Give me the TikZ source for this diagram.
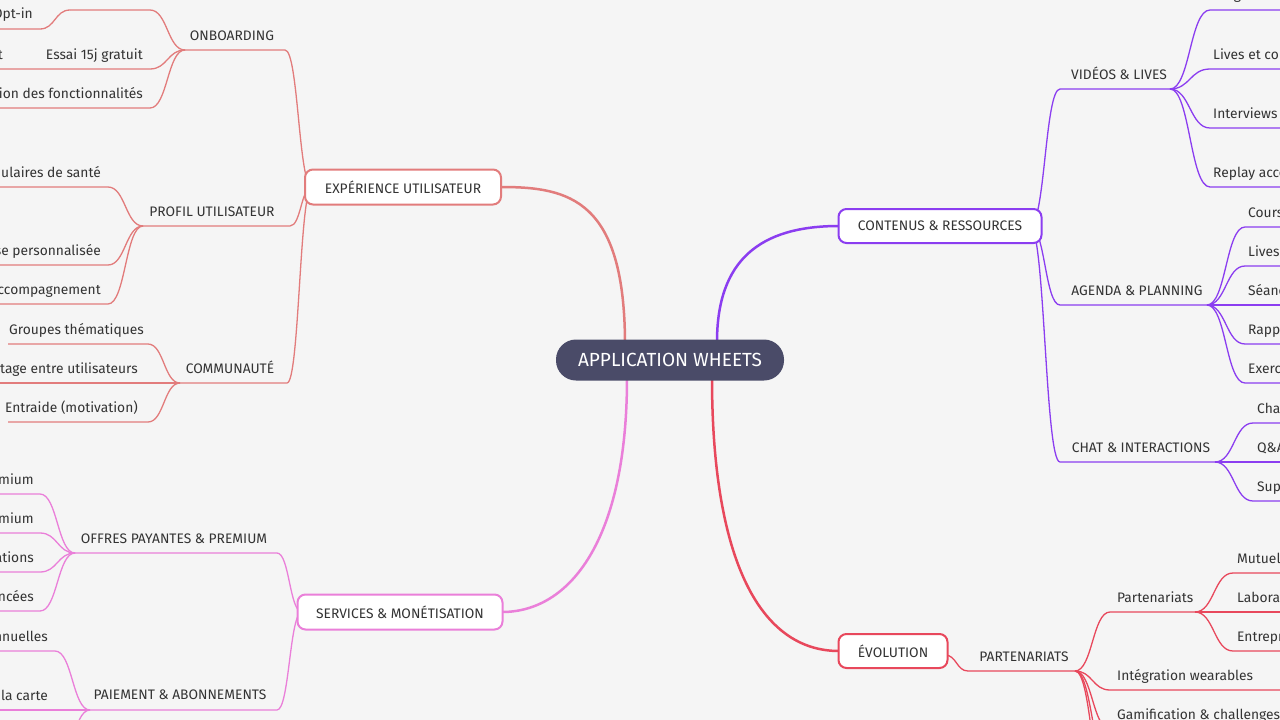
\documentclass[tikz,border=0pt]{standalone}
\usepackage{fontspec}
\setmainfont{Fira Sans}
\definecolor{bg}{HTML}{F5F5F5}
\definecolor{cS}{HTML}{E27C7C}
\definecolor{cP}{HTML}{EA7FD9}
\definecolor{cV}{HTML}{8B3DF0}
\definecolor{cR}{HTML}{E8485C}
\definecolor{tx}{HTML}{333333}
\definecolor{ctr}{HTML}{4A4B68}
\tikzset{
 topic/.style={draw=#1,line width=2pt,fill=white,rounded corners=8pt,minimum height=34pt,inner xsep=10pt,text=tx,font=\fontsize{13.8}{15}\selectfont},
 lab/.style={text=tx,font=\fontsize{13.8}{15}\selectfont,inner sep=0pt},
}
\newcommand\Lk[6]{\draw[#1,line width=1.3pt] (#2,#3) .. controls ({(#2+#4)/2},#3) and ({(#2+#4)/2},#5) .. (#4,#5) -- (#6,#5);}
\begin{document}
\begin{tikzpicture}[x=1pt,y=-1pt]
\useasboundingbox (0,0) rectangle (1280,720);
\fill[bg] (0,0) rectangle (1280,720);
\clip (0,0) rectangle (1280,720);
% main edges
\draw[cS,line width=2.5pt] (625,345) .. controls (625,200) and (570,187) .. (501,187);
\draw[cP,line width=2.5pt] (627,378) .. controls (627,540) and (570,612) .. (502,612);
\draw[cV,line width=2.5pt] (717,342) .. controls (717,260) and (760,226) .. (839,226);
\draw[cR,line width=2.5pt] (712,378) .. controls (712,560) and (760,651) .. (839,651);
% EXPERIENCE subtopics
\Lk{cS}{312}{187}{285}{50}{185}
\Lk{cS}{312}{187}{290}{226}{143}
\Lk{cS}{312}{187}{287}{383}{180}
\node[lab,anchor=base] at (232,40) {ONBOARDING};
\node[lab,anchor=base] at (212,216) {PROFIL UTILISATEUR};
\node[lab,anchor=base] at (230,373) {COMMUNAUTÉ};
% onboarding leaves
\Lk{cS}{185}{50}{150}{10}{70}
\Lk{cS}{70}{10}{40}{29}{0}
\Lk{cS}{185}{50}{150}{69}{0}
\Lk{cS}{185}{50}{150}{108}{0}
\node[lab,anchor=base east] at (33,19) {Opt-in};
\node[lab,anchor=base east] at (143,59) {Essai 15j gratuit};
\node[lab,anchor=base east] at (3,59) {Accès immédiat};
\node[lab,anchor=base east] at (143,98) {Présentation des fonctionnalités};
% profil leaves
\Lk{cS}{143}{226}{108}{187}{0}
\Lk{cS}{143}{226}{108}{265}{0}
\Lk{cS}{143}{226}{108}{304}{0}
\node[lab,anchor=base east] at (101,177) {Formulaires de santé};
\node[lab,anchor=base east] at (101,255) {Analyse personnalisée};
\node[lab,anchor=base east] at (101,294) {Plan d'accompagnement};
% communaute leaves
\Lk{cS}{180}{383}{148}{344}{8}
\Lk{cS}{180}{383}{148}{383}{0}
\Lk{cS}{180}{383}{148}{422}{8}
\node[lab,anchor=base west] at (9,334) {Groupes thématiques};
\node[lab,anchor=base east] at (138,373) {Partage entre utilisateurs};
\node[lab,anchor=base east] at (138,412) {Entraide (motivation)};
% SERVICES subtopics
\Lk{cP}{302}{612}{277}{553}{75}
\Lk{cP}{302}{612}{277}{710}{90}
\node[lab,anchor=base] at (174,543) {OFFRES PAYANTES \& PREMIUM};
\node[lab,anchor=base] at (180,699) {PAIEMENT \& ABONNEMENTS};
\Lk{cP}{75}{553}{40}{494}{0}
\Lk{cP}{75}{553}{40}{533}{0}
\Lk{cP}{75}{553}{40}{572}{0}
\Lk{cP}{75}{553}{40}{611}{0}
\node[lab,anchor=base east] at (34,484) {Abonnement premium};
\node[lab,anchor=base east] at (34,523) {Contenus premium};
\node[lab,anchor=base east] at (34,562) {Consultations};
\node[lab,anchor=base east] at (34,601) {Fonctions avancées};
\Lk{cP}{90}{710}{55}{651}{0}
\Lk{cP}{90}{710}{55}{710}{0}
\Lk{cP}{90}{710}{55}{769}{0}
\node[lab,anchor=base east] at (48,641) {Offres mensuelles et annuelles};
\node[lab,anchor=base east] at (48,700) {Achats à la carte};
% CONTENUS subtopics
\Lk{cV}{1030}{226}{1060}{89}{1170}
\Lk{cV}{1030}{226}{1060}{305}{1207}
\Lk{cV}{1030}{226}{1060}{462}{1215}
\node[lab,anchor=base] at (1119,79) {VIDÉOS \& LIVES};
\node[lab,anchor=base] at (1137,295) {AGENDA \& PLANNING};
\node[lab,anchor=base] at (1141,452) {CHAT \& INTERACTIONS};
\Lk{cV}{1170}{89}{1210}{10}{1280}
\Lk{cV}{1170}{89}{1210}{69}{1280}
\Lk{cV}{1170}{89}{1210}{128}{1280}
\Lk{cV}{1170}{89}{1210}{187}{1280}
\node[lab,anchor=base west] at (1213,-1) {Programmes guidés};
\node[lab,anchor=base west] at (1213,59) {Lives et conférences};
\node[lab,anchor=base west] at (1213,118) {Interviews d'experts};
\node[lab,anchor=base west] at (1213,177) {Replay accessible};
\Lk{cV}{1207}{305}{1245}{227}{1280}
\Lk{cV}{1207}{305}{1245}{266}{1280}
\Lk{cV}{1207}{305}{1245}{305}{1280}
\Lk{cV}{1207}{305}{1245}{344}{1280}
\Lk{cV}{1207}{305}{1245}{383}{1280}
\node[lab,anchor=base west] at (1248,217) {Cours collectifs};
\node[lab,anchor=base west] at (1248,256) {Lives programmés};
\node[lab,anchor=base west] at (1248,295) {Séances individuelles};
\node[lab,anchor=base west] at (1248,334) {Rappels};
\node[lab,anchor=base west] at (1248,373) {Exercices};
\Lk{cV}{1215}{462}{1253}{423}{1280}
\Lk{cV}{1215}{462}{1253}{462}{1280}
\Lk{cV}{1215}{462}{1253}{501}{1280}
\node[lab,anchor=base west] at (1257,413) {Chat};
\node[lab,anchor=base west] at (1257,452) {Q\&A};
\node[lab,anchor=base west] at (1257,491) {Support};
% EVOLUTION
\Lk{cR}{945}{655}{968}{671}{1075}
\node[lab,anchor=base] at (1024,661) {PARTENARIATS};
\Lk{cR}{1075}{671}{1110}{612}{1195}
\Lk{cR}{1075}{671}{1110}{690}{1280}
\Lk{cR}{1075}{671}{1110}{729}{1280}
\Lk{cR}{1075}{671}{1110}{768}{1280}
\Lk{cR}{1075}{671}{1110}{807}{1280}
\node[lab,anchor=base west] at (1117,602) {Partenariats};
\node[lab,anchor=base west] at (1117,680) {Intégration wearables};
\node[lab,anchor=base west] at (1117,719) {Gamification \& challenges};
\Lk{cR}{1195}{612}{1233}{573}{1280}
\Lk{cR}{1195}{612}{1233}{612}{1280}
\Lk{cR}{1195}{612}{1233}{651}{1280}
\node[lab,anchor=base west] at (1237,563) {Mutuelles};
\node[lab,anchor=base west] at (1237,602) {Laboratoires};
\node[lab,anchor=base west] at (1237,641) {Entreprises};
% topic boxes
\node[topic=cS,minimum width=196pt,minimum height=35pt] (exp) at (403,187) {EXPÉRIENCE UTILISATEUR};
\node[topic=cP,minimum width=205pt,minimum height=35pt] (srv) at (400,612) {SERVICES \& MONÉTISATION};
\node[topic=cV,minimum width=203pt,minimum height=34pt] (cnt) at (940,226) {CONTENUS \& RESSOURCES};
\node[topic=cR,minimum width=109pt,minimum height=34pt] (evo) at (893,651) {ÉVOLUTION};
\node[fill=ctr,rounded corners=20pt,minimum width=228pt,minimum height=41pt,text=white,font=\fontsize{19}{21}\selectfont] (ctr) at (670,360) {APPLICATION WHEETS};
\end{tikzpicture}
\end{document}
